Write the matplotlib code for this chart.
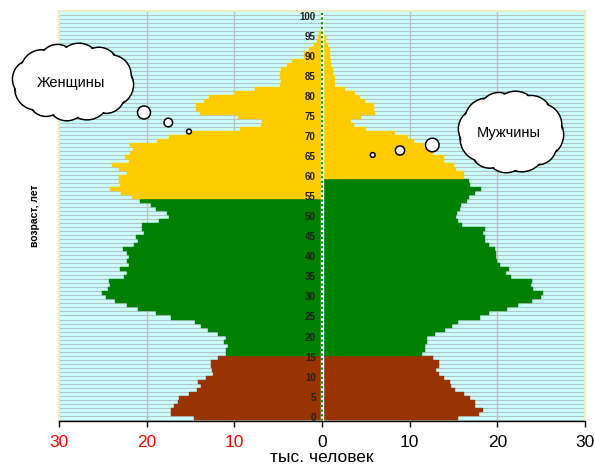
import numpy as np
import matplotlib
matplotlib.use("Agg")
import matplotlib.pyplot as plt
from matplotlib.patches import Circle, Ellipse

plt.rcParams['font.family'] = ['Liberation Sans', 'DejaVu Sans']

ages = list(range(101))
women = [14.6, 17.2, 17.2, 16.9, 16.4, 16.3, 15.2, 14.3, 13.8, 14.1,
         13.2, 12.4, 12.6, 12.7, 12.7, 11.9, 10.9, 11.0, 10.7, 11.2,
         10.9, 11.9, 13.0, 13.8, 14.5, 17.2, 18.9, 21.0, 22.3, 23.6,
         24.6, 25.1, 24.4, 24.2, 24.3, 22.6, 22.2, 23.0, 22.0, 22.2,
         22.0, 22.2, 22.7, 21.5, 21.0, 21.2, 20.3, 20.5, 20.5, 18.6,
         17.5, 17.7, 18.9, 19.5, 20.8, 21.7, 22.9, 24.2, 23.0, 23.2,
         23.2, 22.2, 23.1, 23.9, 22.0, 22.5, 21.9, 21.6, 21.9, 18.8,
         17.4, 15.5, 9.3, 7.0, 6.8, 9.6, 13.9, 14.4, 14.4, 13.5,
         12.9, 10.0, 7.6, 4.8, 4.7, 4.8, 4.8, 4.7, 4.0, 3.4,
         2.0, 2.0, 1.5, 0.95, 0.6, 0.4, 0.3, 0.1, 0.0, 0.0,
         0.0]
men = [15.5, 17.9, 18.4, 17.5, 17.4, 16.9, 16.2, 15.2, 14.7, 14.6,
       13.9, 13.3, 13.0, 13.3, 13.3, 12.7, 11.4, 11.8, 11.7, 12.0,
       12.0, 12.9, 14.0, 14.8, 15.5, 18.0, 19.0, 21.1, 22.4, 23.9,
       25.0, 25.2, 24.1, 23.8, 23.9, 21.6, 21.0, 21.3, 20.3, 20.0,
       19.8, 19.9, 19.7, 19.0, 18.6, 18.6, 18.4, 18.6, 16.0, 15.5,
       15.3, 15.4, 15.7, 15.8, 16.5, 16.8, 17.4, 18.1, 16.9, 16.8,
       16.2, 16.2, 15.3, 15.0, 13.9, 13.9, 12.7, 12.6, 11.6, 10.5,
       9.85, 8.3, 5.0, 3.7, 3.3, 4.45, 6.0, 5.9, 5.9, 4.87,
       4.3, 3.73, 2.66, 1.52, 1.52, 1.52, 1.26, 1.26, 1.07, 1.07,
       0.88, 0.88, 0.88, 0.68, 0.42, 0.42, 0.23, 0.0, 0.0, 0.0,
       0.0]

child_max = 15          # 0-15 : children
women_work_max = 54     # women 16-54 working age
men_work_max = 59       # men 16-59 working age
xticks = [-30, -20, -10, 0, 10, 20, 30]
xtick_labels = ['30', '20', '10', '0', '10', '20', '30']
ytick_ages = list(range(0, 101, 5))

C_CHILD = '#993300'
C_WORK = '#008000'
C_OLD = '#ffcc00'


def color_for(age, work_max):
    if age <= child_max:
        return C_CHILD
    if age <= work_max:
        return C_WORK
    return C_OLD


fig = plt.figure(figsize=(5.95, 4.66), dpi=100)
ax = fig.add_axes([59 / 595, 1 - 421 / 466, 526 / 595, 410 / 466])
ax.set_facecolor('#ccffff')

# background stripes
ax.hlines([a - 0.5 for a in ages] + [100.5], -30, 30, colors='#b4c4c4',
          linewidth=0.8, zorder=0.5)
for v in [-20, -10, 10, 20]:
    ax.axvline(v, color='#c0c0c0', linewidth=1.0, zorder=0.6)

wc = [color_for(a, women_work_max) for a in ages]
mc = [color_for(a, men_work_max) for a in ages]
ax.barh(ages, [-w for w in women], height=1.0, color=wc, edgecolor=wc,
        linewidth=0.3, zorder=2)
ax.barh(ages, men, height=1.0, color=mc, edgecolor=mc, linewidth=0.3,
        zorder=2)

# centre dotted line
ax.axvline(0, color='white', linewidth=2.4, zorder=3)
ax.axvline(0, color='#1a8a1a', linewidth=1.6, linestyle=(0, (1, 1.1)),
           zorder=3.1)

ax.set_xlim(-30, 30)
ax.set_ylim(-0.8, 101.4)
ax.set_xticks(xticks)
ax.set_xticklabels(xtick_labels, fontsize=12.5)
for lbl, v in zip(ax.get_xticklabels(), xticks):
    lbl.set_color('#ff0000' if v < 0 else 'black')
ax.tick_params(axis='x', direction='out', length=4, width=1, pad=6)
ax.set_yticks([])
for a in ytick_ages:
    ax.text(-0.7, a, str(a), ha='right', va='center', fontsize=7,
            fontweight='bold', color='#222222', zorder=4)

for s in ['left', 'top', 'right']:
    ax.spines[s].set_color('#ececc4')
    ax.spines[s].set_linewidth(1.5)
ax.spines['bottom'].set_color('black')
ax.spines['bottom'].set_linewidth(1.0)

ax.set_xlabel('тыс. человек', fontsize=12.5, labelpad=0)
ax.set_ylabel('возраст, лет', fontsize=7.5, fontweight='bold', labelpad=14)

# overlay in pixel coordinates for the callouts
ov = fig.add_axes([0, 0, 1, 1], zorder=10)
ov.set_xlim(0, 595)
ov.set_ylim(466, 0)
ov.axis('off')
ov.patch.set_alpha(0)


def cloud(cx, cy, rx, ry, text):
    n = 12
    ang = np.linspace(0, 2 * np.pi, n, endpoint=False) + 0.15
    radii = ry * np.array([0.55, 0.48, 0.58, 0.5, 0.46, 0.56, 0.5,
                           0.54, 0.47, 0.55, 0.5, 0.52])
    lobes = []
    for t, r in zip(ang, radii):
        x = cx + (rx - r) * np.cos(t)
        y = cy + (ry - r) * np.sin(t)
        lobes.append((x, y, r))
    for x, y, r in lobes:
        ov.add_patch(Circle((x, y), r, facecolor='white', edgecolor='black',
                            linewidth=1.1, zorder=1))
    for x, y, r in lobes:
        ov.add_patch(Circle((x, y), r - 1.2, facecolor='white',
                            edgecolor='none', zorder=2))
    ov.add_patch(Ellipse((cx, cy), 2 * rx - 26, 2 * ry - 22,
                         facecolor='white', edgecolor='none', zorder=2))
    ov.text(cx - 2, cy + 1, text, ha='center', va='center', fontsize=10.5,
            zorder=3)


def bubble(x, y, r):
    ov.add_patch(Circle((x, y), r, facecolor='white', edgecolor='black',
                        linewidth=1.1, zorder=3))


cloud(73, 82, 61, 39, 'Женщины')
bubble(144, 112.5, 6.5)
bubble(168.3, 122.5, 4.3)
bubble(189, 131.5, 2.4)

cloud(511, 132, 53, 41, 'Мужчины')
bubble(432.3, 145, 6.8)
bubble(400, 150.5, 4.6)
bubble(372.7, 155, 2.4)

fig.savefig('out.png', dpi=100)
